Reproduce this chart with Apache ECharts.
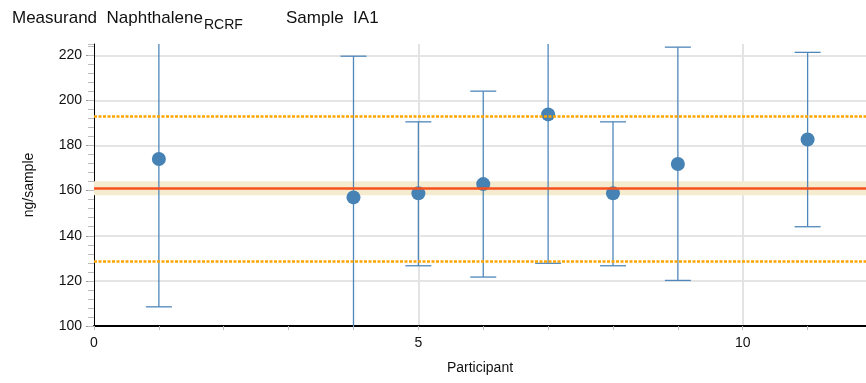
<!DOCTYPE html>
<html>
<head>
<meta charset="utf-8">
<script src="https://cdn.jsdelivr.net/npm/echarts@6/dist/echarts.min.js"></script>
<style>html,body{margin:0;padding:0;background:#fff}#c{width:866px;height:383px}</style>
</head>
<body>
<div id="c"></div>
<script>
// ---- data ----
var participants = [1, 4, 5, 6, 7, 8, 9, 11];
var values       = [174, 157, 158.8, 162.9, 193.8, 158.8, 171.8, 182.7];
var lowerLimits  = [108.5, 94.4, 126.7, 121.7, 127.8, 126.7, 120.2, 144.0];
var upperLimits  = [239.5, 219.6, 190.5, 204.1, 259.6, 190.5, 223.6, 221.3];
var assignedValue = 161.1;
var assignedBand  = [158.0, 164.2];
var toleranceLimits = [128.5, 193.1];
var xTickLabels = [0, 5, 10];
var yTickLabels = [100, 120, 140, 160, 180, 200, 220];

var FONT = 'Liberation Sans, Arial, sans-serif';
var chart = echarts.init(document.getElementById('c'), null, {renderer: 'canvas'});

var errData = participants.map(function (p, i) { return [p, lowerLimits[i], upperLimits[i]]; });
var ptData = participants.map(function (p, i) { return [p, values[i]]; });

var gridRect = {left: 94, right: 0, top: 44, bottom: 57, containLabel: false};

var option = {
  animation: false,
  backgroundColor: '#fff',
  title: [
    {text: 'Measurand  Naphthalene', left: 12, top: 10, padding: 0,
     textStyle: {fontFamily: FONT, fontSize: 17, fontWeight: 'normal', color: '#111'}},
    {text: 'RCRF', left: 204, top: 18, padding: 0,
     textStyle: {fontFamily: FONT, fontSize: 14, fontWeight: 'normal', color: '#111'}},
    {text: 'Sample  IA1', left: 286, top: 10, padding: 0,
     textStyle: {fontFamily: FONT, fontSize: 17, fontWeight: 'normal', color: '#111'}}
  ],
  grid: [
    Object.assign({}, gridRect),
    Object.assign({}, gridRect)
  ],
  xAxis: [
    {type: 'value', gridIndex: 0, min: 0, max: 11.9, interval: 5,
     name: 'Participant', nameLocation: 'middle', nameGap: 35,
     nameTextStyle: {fontFamily: FONT, fontSize: 14, color: '#111'},
     axisLine: {show: true, onZero: false, lineStyle: {color: '#000', width: 2}},
     axisTick: {show: true, length: 4, lineStyle: {color: '#bbb'}},
     axisLabel: {margin: 10, fontFamily: FONT, fontSize: 14, color: '#111',
       showMaxLabel: false,
       formatter: function (v) { return xTickLabels.indexOf(v) >= 0 ? String(v) : ''; }},
     splitLine: {show: true, showMinLine: false, showMaxLine: false, lineStyle: {color: '#e3e3e3', width: 2}}
    },
    {type: 'value', gridIndex: 1, min: 0, max: 11.9, interval: 1, position: 'bottom',
     axisLine: {show: false, onZero: false}, axisLabel: {show: false}, splitLine: {show: false},
     axisTick: {show: true, length: 4, lineStyle: {color: '#bbb'}}}
  ],
  yAxis: [
    {type: 'value', gridIndex: 0, min: 100, max: 225, interval: 20,
     name: 'ng/sample', nameLocation: 'middle', nameGap: 58, nameRotate: 90,
     nameTextStyle: {fontFamily: FONT, fontSize: 14, color: '#111'},
     axisLine: {show: true, onZero: false, lineStyle: {color: '#000', width: 1}},
     axisTick: {show: true, length: 8, lineStyle: {color: '#999'}},
     axisLabel: {margin: 12, fontFamily: FONT, fontSize: 14, color: '#111', showMaxLabel: false,
       formatter: function (v) { return yTickLabels.indexOf(v) >= 0 ? String(v) : ''; }},
     splitLine: {show: true, showMinLine: false, showMaxLine: false, lineStyle: {color: '#dcdcdc', width: 1.5}}
    },
    {type: 'value', gridIndex: 1, min: 100, max: 225, interval: 4, position: 'left',
     axisLine: {show: false, onZero: false}, axisLabel: {show: false}, splitLine: {show: false},
     axisTick: {show: true, length: 6, lineStyle: {color: '#bbb'}}}
  ],
  series: [
    {type: 'line', data: [], xAxisIndex: 0, yAxisIndex: 0, silent: true,
     markArea: {silent: true, itemStyle: {color: '#f5ecd0'},
       data: [[{yAxis: assignedBand[0]}, {yAxis: assignedBand[1]}]]},
     markLine: {silent: true, symbol: 'none', label: {show: false},
       data: [
         {yAxis: assignedValue, lineStyle: {color: '#f4511e', width: 2.5, type: 'solid'}},
         {yAxis: toleranceLimits[0], lineStyle: {color: '#ffa500', width: 2.5, type: [3, 1.5]}},
         {yAxis: toleranceLimits[1], lineStyle: {color: '#ffa500', width: 2.5, type: [3, 1.5]}}
       ]}
    },
    {type: 'custom', xAxisIndex: 0, yAxisIndex: 0, clip: true, data: errData,
     renderItem: function (params, api) {
       var x = api.value(0);
       var lo = api.coord([x, api.value(1)]);
       var hi = api.coord([x, api.value(2)]);
       var hw = 13;
       var st = {stroke: '#4f87ba', lineWidth: 1.3};
       return {type: 'group', children: [
         {type: 'line', shape: {x1: lo[0], y1: lo[1], x2: hi[0], y2: hi[1]}, style: st},
         {type: 'line', shape: {x1: lo[0] - hw, y1: lo[1], x2: lo[0] + hw, y2: lo[1]}, style: st},
         {type: 'line', shape: {x1: hi[0] - hw, y1: hi[1], x2: hi[0] + hw, y2: hi[1]}, style: st}
       ]};
     }
    },
    {type: 'scatter', xAxisIndex: 0, yAxisIndex: 0, data: ptData, symbolSize: 14,
     itemStyle: {color: '#4682b4', opacity: 1}}
  ]
};
chart.setOption(option);
</script>
</body>
</html>
